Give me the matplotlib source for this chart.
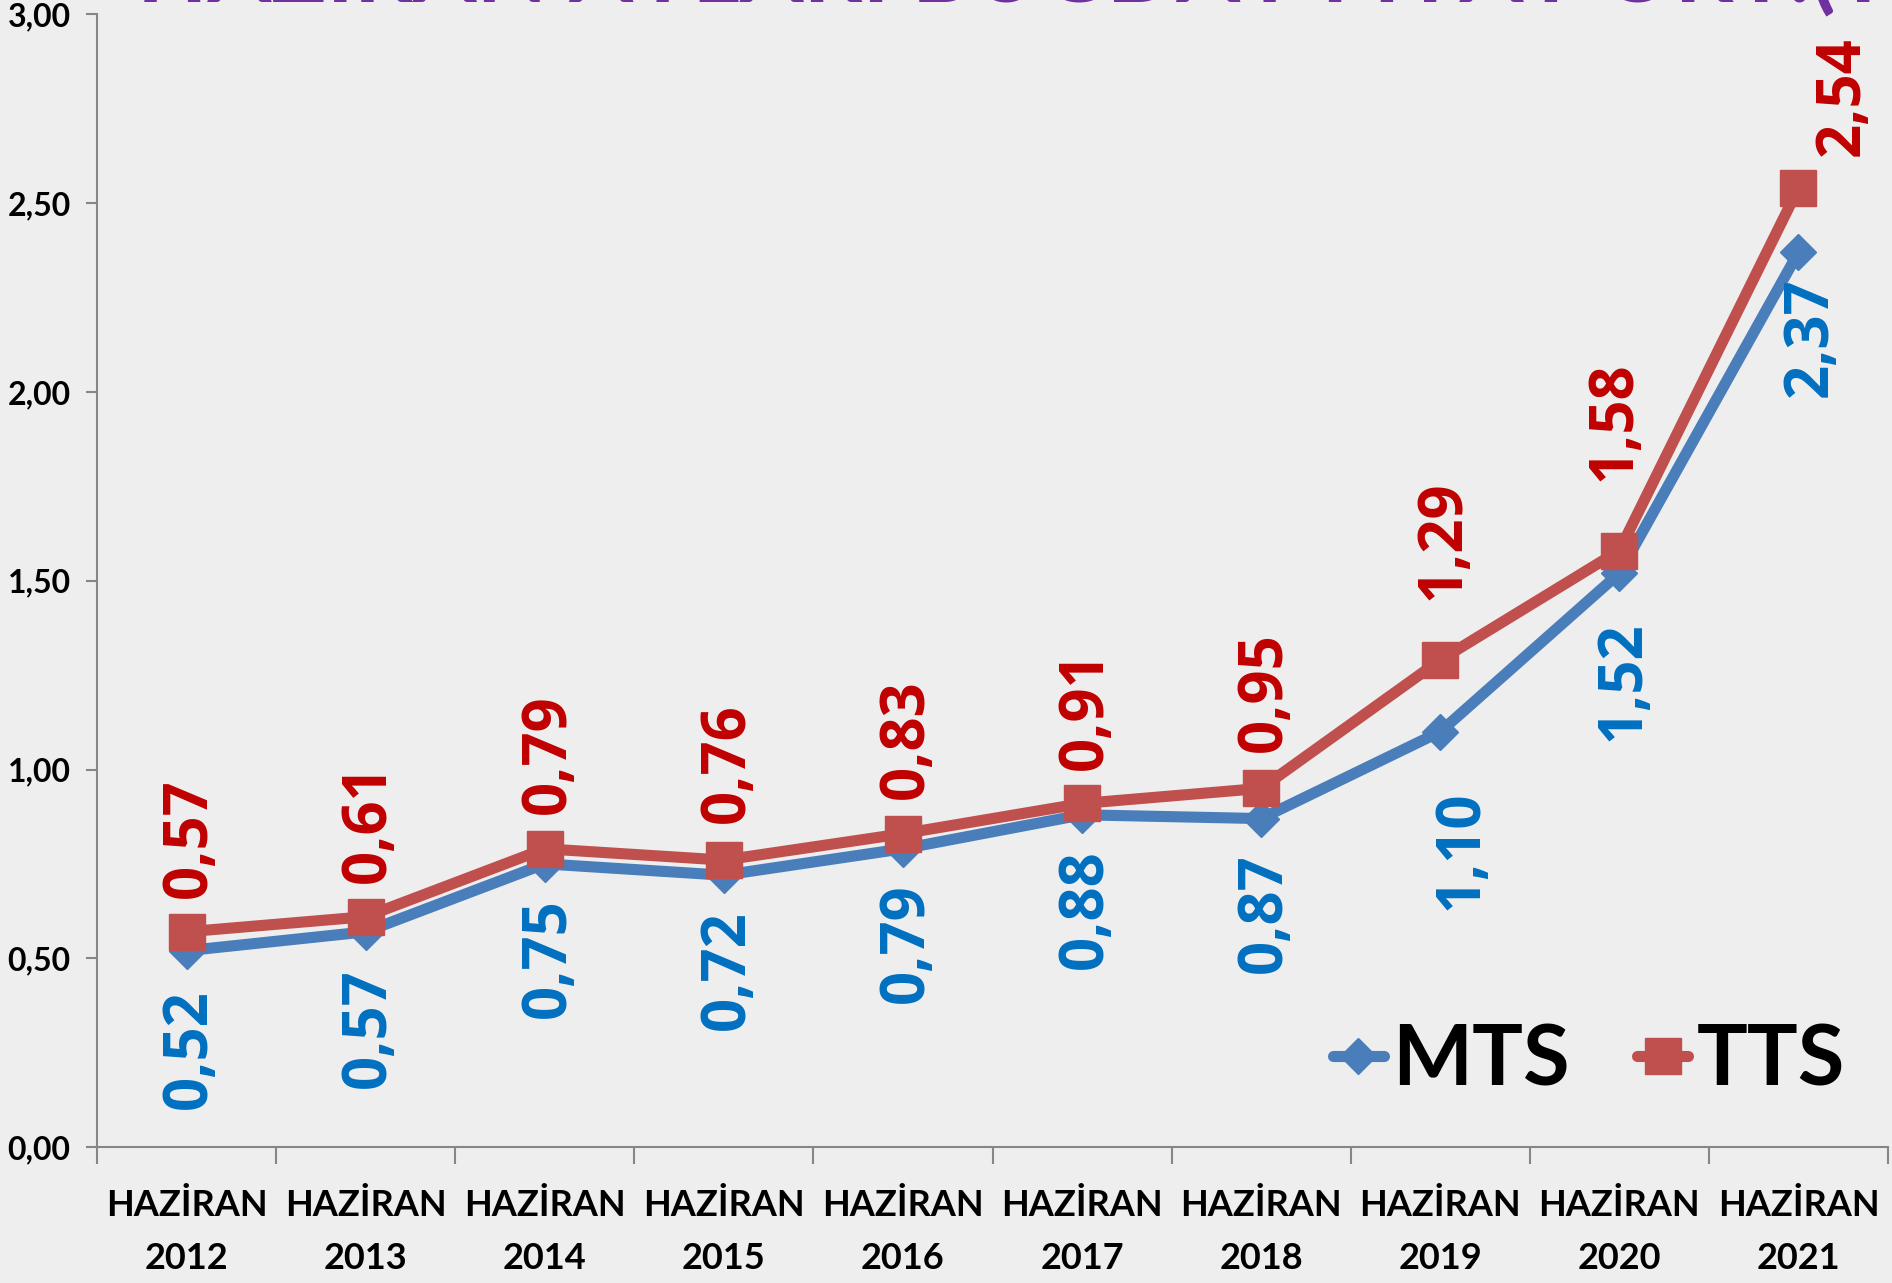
import matplotlib
matplotlib.use("Agg")
import matplotlib.pyplot as plt
import numpy as np

# ---- data ----
years = ["2012", "2013", "2014", "2015", "2016", "2017", "2018", "2019", "2020", "2021"]
month_label = "HAZİRAN"
mts = [0.52, 0.57, 0.75, 0.72, 0.79, 0.88, 0.87, 1.10, 1.52, 2.37]
tts = [0.57, 0.61, 0.79, 0.76, 0.83, 0.91, 0.95, 1.29, 1.58, 2.54]
series_names = ["MTS", "TTS"]
yticks = [0.0, 0.5, 1.0, 1.5, 2.0, 2.5, 3.0]
title_text = "HAZİRAN AYLARI BUĞDAY FİYAT ORT.(TL/KG)"

# ---- label offsets (points) ----
tts_dx = [3, 3, 3, 3, 3, 3, 3, 3, -3, 32]
tts_dy = [24, 24, 25, 27, 25, 24, 26, 43, 50, 23]
mts_dx = [3, 3, 3, 3, 3, 3, 3, 16, 3, 9]
mts_dy = [-28, -26, -25, -25, -25, -25, -25, -42, -35, -18]

blue_line = "#4A7EBB"
red_line = "#C0504D"
blue_txt = "#0070C0"
red_txt = "#C00000"
axis_col = "#868686"

fig = plt.figure(figsize=(18.92, 12.83), dpi=100)
fig.patch.set_facecolor("#EEEEEE")
ax = fig.add_axes([97 / 1892, 0.106, (1888 - 97) / 1892, 0.8827])
ax.set_facecolor("none")

x = np.arange(len(years))
ax.plot(x, mts, color=blue_line, lw=8, marker="D", ms=18, solid_capstyle="round",
        label=series_names[0], zorder=3)
ax.plot(x, tts, color=red_line, lw=8, marker="s", ms=26, solid_capstyle="round",
        label=series_names[1], zorder=4)

def fmt(v):
    return f"{v:.2f}".replace(".", ",")

for i, v in enumerate(tts):
    ax.annotate(fmt(v), xy=(i, v), xytext=(tts_dx[i], tts_dy[i]), textcoords="offset points",
                rotation=90, ha="center", va="bottom", color=red_txt, fontsize=43,
                fontfamily="Open Sans", fontweight="bold", zorder=5)
for i, v in enumerate(mts):
    ax.annotate(fmt(v), xy=(i, v), xytext=(mts_dx[i], mts_dy[i]), textcoords="offset points",
                rotation=90, ha="center", va="top", color=blue_txt, fontsize=43,
                fontfamily="Open Sans", fontweight="bold", zorder=5)

ax.set_xlim(-0.5, len(years) - 0.5)
ax.set_ylim(0, 3)

# x axis: ticks at category boundaries, labels at centers
ax.set_xticks(np.arange(-0.5, len(years), 1.0))
ax.set_xticklabels([])
ax.set_xticks(x, minor=True)
ax.set_xticklabels([f"{month_label}\n{y}" for y in years], minor=True,
                   fontfamily="Lato", fontweight="bold", fontsize=26, linespacing=1.75)
ax.tick_params(axis="x", which="major", length=12, width=1.5, color=axis_col, direction="out")
ax.tick_params(axis="x", which="minor", length=0, pad=30)

ax.set_yticks(yticks)
ax.set_yticklabels([fmt(t) for t in yticks], fontfamily="Lato", fontweight="bold", fontsize=23)
ax.tick_params(axis="y", length=8, width=1.5, color=axis_col, direction="out", pad=11)

for s in ["top", "right"]:
    ax.spines[s].set_visible(False)
for s in ["left", "bottom"]:
    ax.spines[s].set_color(axis_col)
    ax.spines[s].set_linewidth(1.5)

leg = ax.legend(loc="center", bbox_to_anchor=(0.833, 0.076), ncol=2, frameon=False,
                prop={"family": "Lato", "weight": "bold", "size": 61},
                handlelength=0.6, handletextpad=0.1, columnspacing=0.8, borderpad=0)

fig.text(137 / 1892, 1 - 1.5 / 1283, title_text, ha="left", va="baseline",
         color="#7030A0", fontsize=66, fontfamily="Lato", fontweight="bold")

fig.savefig("out.png", dpi=100, facecolor=fig.get_facecolor())
